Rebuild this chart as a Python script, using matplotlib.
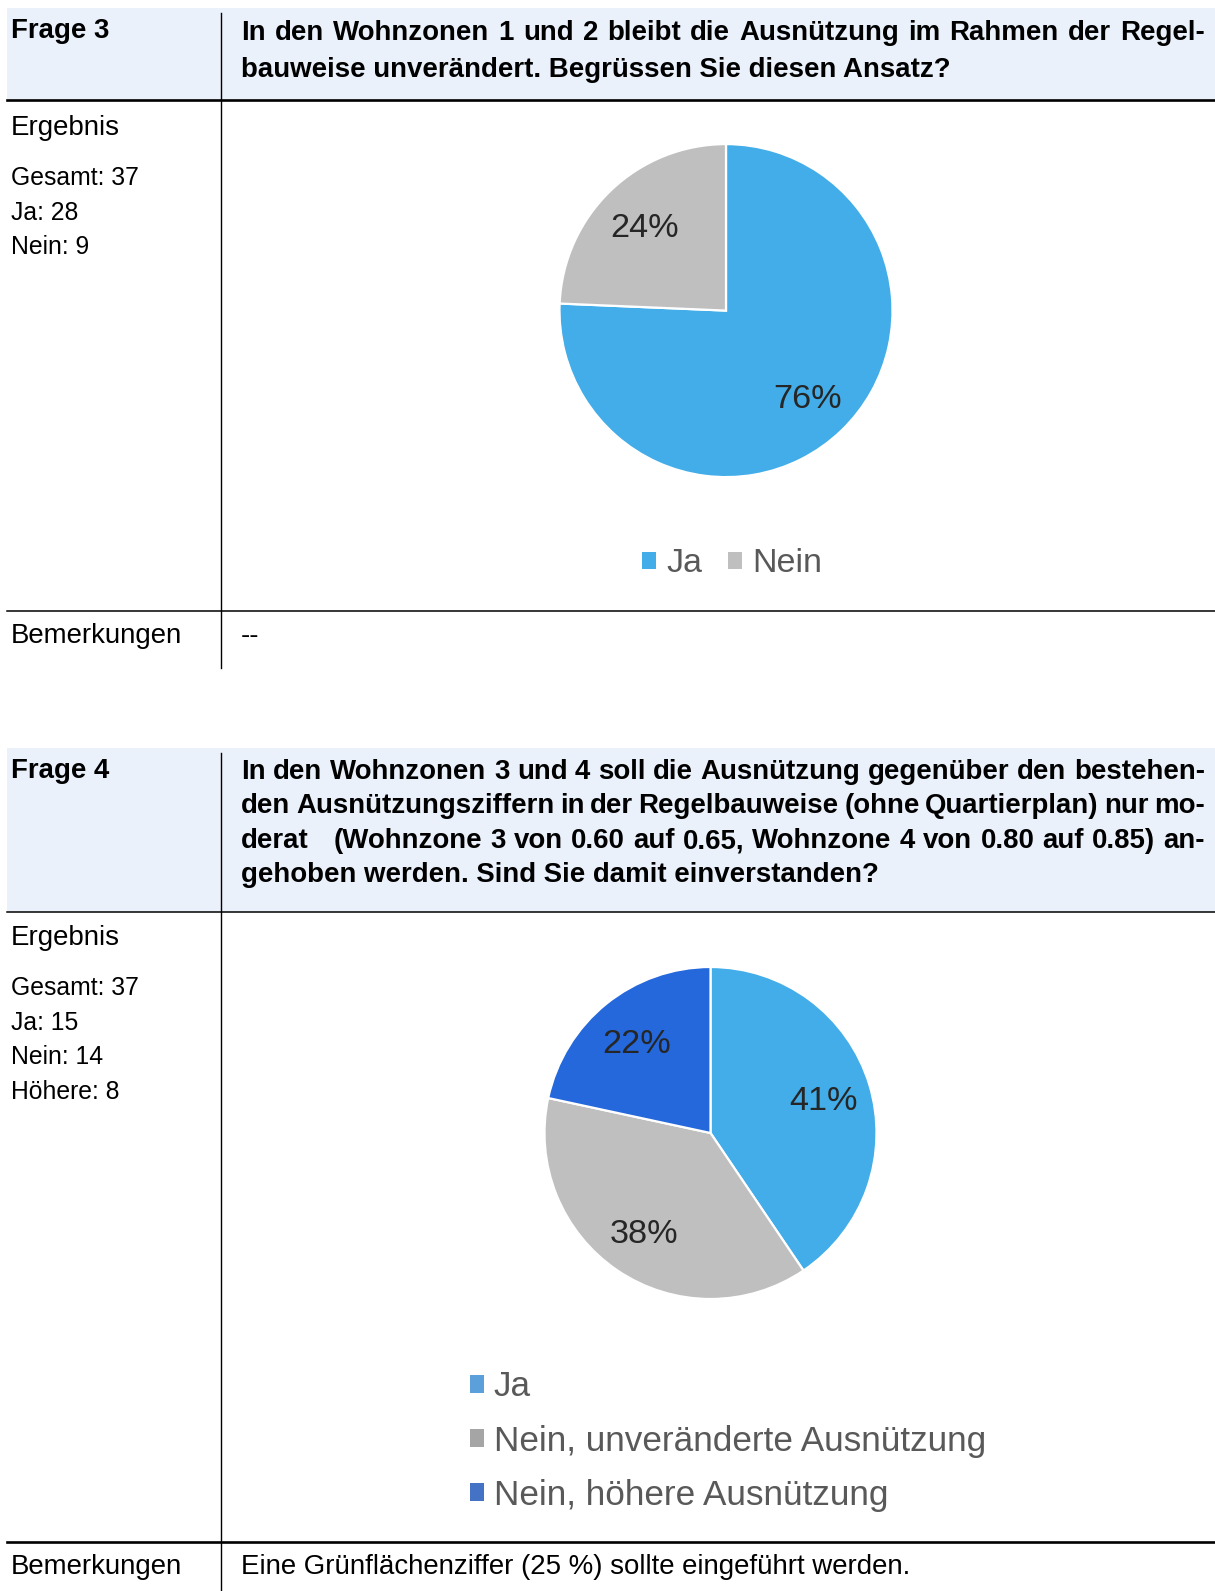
import matplotlib
matplotlib.use('Agg')
import matplotlib.pyplot as plt
from matplotlib.patches import Rectangle, Patch

plt.rcParams['font.family'] = ['Liberation Sans', 'DejaVu Sans']

# Daten Frage 3
frage3_labels = ['Ja', 'Nein']
frage3_werte = [28, 9]
frage3_farben = ['#42ADE8', '#BFBFBF']
frage3_text = ['In den Wohnzonen 1 und 2 bleibt die Ausnützung im Rahmen der Regel-',
               'bauweise unverändert. Begrüssen Sie diesen Ansatz?']
frage3_bemerkung = '--'

# Daten Frage 4
frage4_labels = ['Ja', 'Nein, unveränderte Ausnützung', 'Nein, höhere Ausnützung']
frage4_werte = [15, 14, 8]
frage4_farben = ['#42ADE8', '#BFBFBF', '#2468DC']
frage4_legende_farben = ['#5B9FDB', '#A5A5A5', '#4472C4']
frage4_text = ['In den Wohnzonen 3 und 4 soll die Ausnützung gegenüber den bestehen-',
               'den Ausnützungsziffern in der Regelbauweise (ohne Quartierplan) nur mo-',
               'derat   (Wohnzone 3 von 0.60 auf 0.65, Wohnzone 4 von 0.80 auf 0.85) an-',
               'gehoben werden. Sind Sie damit einverstanden?']
frage4_bemerkung = 'Eine Grünflächenziffer (25 %) sollte eingeführt werden.'

W, H = 1215, 1591
fig = plt.figure(figsize=(W / 100, H / 100), dpi=100)
ax = fig.add_axes([0, 0, 1, 1])
ax.set_xlim(0, W)
ax.set_ylim(H, 0)
ax.axis('off')
renderer = fig.canvas.get_renderer()

X_LINKS = 11
X_RECHTS = 241
X_ENDE = 1205
KOPF_GR = 19.9
TEXT_GR = 19.9
ZAHL_GR = 17.8


def blocksatz(zeile, y, **kw):
    woerter = zeile.split(' ')
    texte = [ax.text(0, y, w, **kw) for w in woerter]
    breiten = [t.get_window_extent(renderer).width for t in texte]
    luecke = (X_ENDE - X_RECHTS - sum(breiten)) / (len(woerter) - 1)
    x = X_RECHTS
    for t, b in zip(texte, breiten):
        t.set_x(x)
        x += b + luecke


def kopf(nummer, zeilen, y_oben, y_unten, y_frage, y_zeilen):
    ax.add_patch(Rectangle((7, y_oben), W - 7, y_unten - y_oben, color='#EAF1FB', lw=0))
    ax.text(X_LINKS, y_frage, 'Frage %d' % nummer, fontsize=KOPF_GR, fontweight='bold')
    for i, (zeile, y) in enumerate(zip(zeilen, y_zeilen)):
        if i < len(zeilen) - 1:
            blocksatz(zeile, y, fontsize=KOPF_GR, fontweight='bold')
        else:
            ax.text(X_RECHTS, y, zeile, fontsize=KOPF_GR, fontweight='bold')


def kuchen(werte, farben, cx, cy, r):
    f = 1.05
    pa = fig.add_axes([(cx - r * f) / W, 1 - (cy + r * f) / H, 2 * r * f / W, 2 * r * f / H])
    keile, _, prozente = pa.pie(werte, colors=farben, startangle=90, counterclock=False,
                                autopct='%.0f%%', pctdistance=0.71,
                                wedgeprops=dict(edgecolor='white', linewidth=1.6),
                                textprops=dict(fontsize=24.7, color='#262626'))
    for t in prozente:
        t.set_va('center_baseline')
    pa.set_xlim(-f, f)
    pa.set_ylim(-f, f)
    return keile


# Frage 3
kopf(3, frage3_text, 8, 100, 38, [40, 77])
ax.plot([7, W], [100, 100], color='black', lw=1.9)
ax.plot([7, W], [610.7, 610.7], color='black', lw=1.1)
ax.plot([220.7, 220.7], [12.7, 668], color='black', lw=1.0)
ax.text(X_LINKS, 135, 'Ergebnis', fontsize=TEXT_GR)
ergebnis3 = ['Gesamt: %d' % sum(frage3_werte), 'Ja: %d' % frage3_werte[0], 'Nein: %d' % frage3_werte[1]]
for zeile, y in zip(ergebnis3, [185, 220, 254]):
    ax.text(X_LINKS, y, zeile, fontsize=ZAHL_GR)
ax.text(X_LINKS, 643, 'Bemerkungen', fontsize=TEXT_GR)
ax.text(X_RECHTS, 643, frage3_bemerkung, fontsize=TEXT_GR)

kuchen(frage3_werte, frage3_farben, 726, 310.6, 166.5)
leg1 = ax.legend(handles=[Patch(facecolor=c, edgecolor='none') for c in frage3_farben],
                 labels=frage3_labels, loc='center left', bbox_to_anchor=(642, 564),
                 bbox_transform=ax.transData, ncol=2, frameon=False, fontsize=24.5,
                 labelcolor='#595959', handlelength=0.4, handleheight=0.4,
                 handletextpad=0.32, columnspacing=0.75, borderpad=0, borderaxespad=0)
ax.add_artist(leg1)

# Frage 4
kopf(4, frage4_text, 748, 911.7, 778, [779.3, 813.3, 848.3, 881.7])
ax.plot([7, W], [911.7, 911.7], color='black', lw=1.1)
ax.plot([7, W], [1542, 1542], color='black', lw=1.9)
ax.plot([220.7, 220.7], [752.7, H], color='black', lw=1.0)
ax.text(X_LINKS, 945, 'Ergebnis', fontsize=TEXT_GR)
ergebnis4 = ['Gesamt: %d' % sum(frage4_werte), 'Ja: %d' % frage4_werte[0],
             'Nein: %d' % frage4_werte[1], 'Höhere: %d' % frage4_werte[2]]
for zeile, y in zip(ergebnis4, [995, 1030, 1064, 1099]):
    ax.text(X_LINKS, y, zeile, fontsize=ZAHL_GR)
ax.text(X_LINKS, 1574, 'Bemerkungen', fontsize=TEXT_GR)
ax.text(X_RECHTS, 1574, frage4_bemerkung, fontsize=TEXT_GR)

kuchen(frage4_werte, frage4_farben, 710.5, 1133, 166)
leg2 = ax.legend(handles=[Patch(facecolor=c, edgecolor='none') for c in frage4_legende_farben],
                 labels=frage4_labels, loc='center left', bbox_to_anchor=(470, 1441),
                 bbox_transform=ax.transData, ncol=1, frameon=False, fontsize=25.3,
                 labelcolor='#595959', handlelength=0.4, handleheight=0.4,
                 handletextpad=0.28, labelspacing=0.6, borderpad=0, borderaxespad=0)

fig.savefig('out.png', dpi=100)
